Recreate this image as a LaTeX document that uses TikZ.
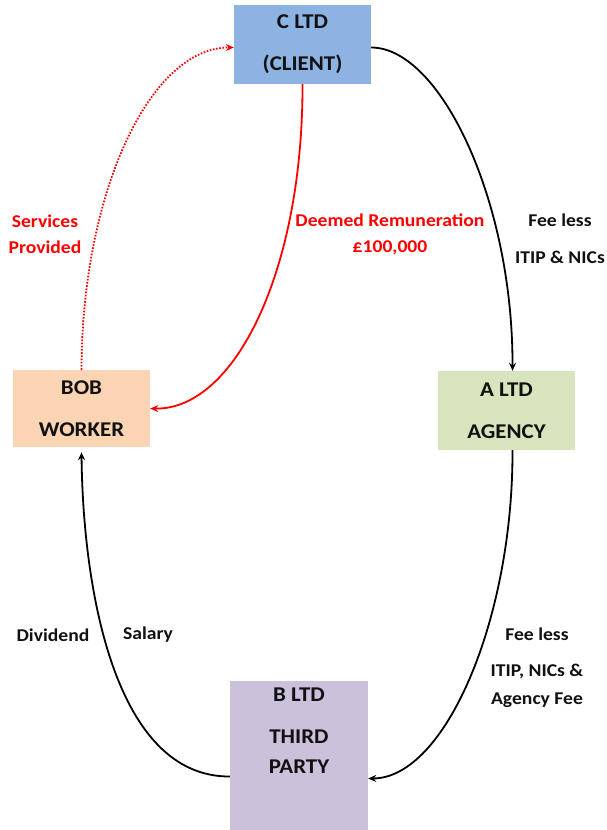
\documentclass[tikz,border=0pt]{standalone}
\usepackage{fontspec}
\setmainfont{Carlito}[FakeStretch=1.09]
\usetikzlibrary{arrows.meta}
\definecolor{cblue}{HTML}{8DB3E2}
\definecolor{bpeach}{HTML}{FBD4B4}
\definecolor{agreen}{HTML}{D7E4BD}
\definecolor{bpurple}{HTML}{CCC1DA}
\definecolor{lred}{HTML}{FF0000}
\definecolor{txt}{HTML}{111111}
\begin{document}
\begin{tikzpicture}[x=1pt,y=-1pt,
  box/.style={draw=none, inner sep=0pt, align=center, text=txt,
    font=\fontsize{21}{25}\selectfont\bfseries},
  lbl/.style={align=center, inner sep=0pt, text=txt,
    font=\fontsize{18}{22}\selectfont\bfseries},
  rlbl/.style={lbl, text=lred},
  conn/.style={line width=1.8pt, -{Stealth[length=8pt,width=7pt]}},
  rconn/.style={conn, draw=lred},
  dconn/.style={rconn, dash pattern=on 1.6pt off 1.6pt}]
\useasboundingbox (0,0) rectangle (607,830);
% boxes
\node[box, fill=cblue, minimum width=137pt, minimum height=79pt] (C) at (302.5,44.5) {C LTD\\[17pt](CLIENT)};
\node[box, fill=bpeach, minimum width=137pt, minimum height=77pt] (BOB) at (81.5,408.5) {BOB\\[17pt]WORKER};
\node[box, fill=agreen, minimum width=137pt, minimum height=79pt] (A) at (506.5,410.5) {A LTD\\[17pt]AGENCY};
\node[box, fill=bpurple, minimum width=138pt, minimum height=155pt] (B) at (299,758.5) {};
\node[box, anchor=north] (Btxt) at (299,688) {B LTD\\[17pt]THIRD\\[5pt]PARTY};
% labels
\node[rlbl] (sp) at (45,234) {Services\\[4pt]Provided};
\node[rlbl] (dr) at (390,234) {Deemed Remuneration\\[4pt]\pounds100,000};
\node[lbl] (fee1) at (560,239) {Fee less\\[15pt]ITIP \& NICs};
\node[lbl] (div) at (53,635) {Dividend};
\node[lbl] (sal) at (148,635) {Salary};
\node[lbl] (fee2) at (537,668) {Fee less\\[14pt]ITIP, NICs \&\\[6pt]Agency Fee};
% connectors
\draw[conn] ([yshift=-3pt]C.east) .. controls (440,47.5) and (513,200) .. ([xshift=6pt]A.north);
\draw[conn] ([xshift=6pt]A.south) .. controls (513,620) and (445,778) .. ([yshift=-20pt]B.east);
\draw[conn] ([yshift=-18pt]B.west) .. controls (115,777) and (83,590) .. ([yshift=-5pt]BOB.south);
\draw[rconn] (C.south) .. controls (303,270) and (235,410) .. (BOB.east);
\draw[dconn] (BOB.north) .. controls (82,192) and (150,47.5) .. ([yshift=-3pt]C.west);
\end{tikzpicture}
\end{document}
